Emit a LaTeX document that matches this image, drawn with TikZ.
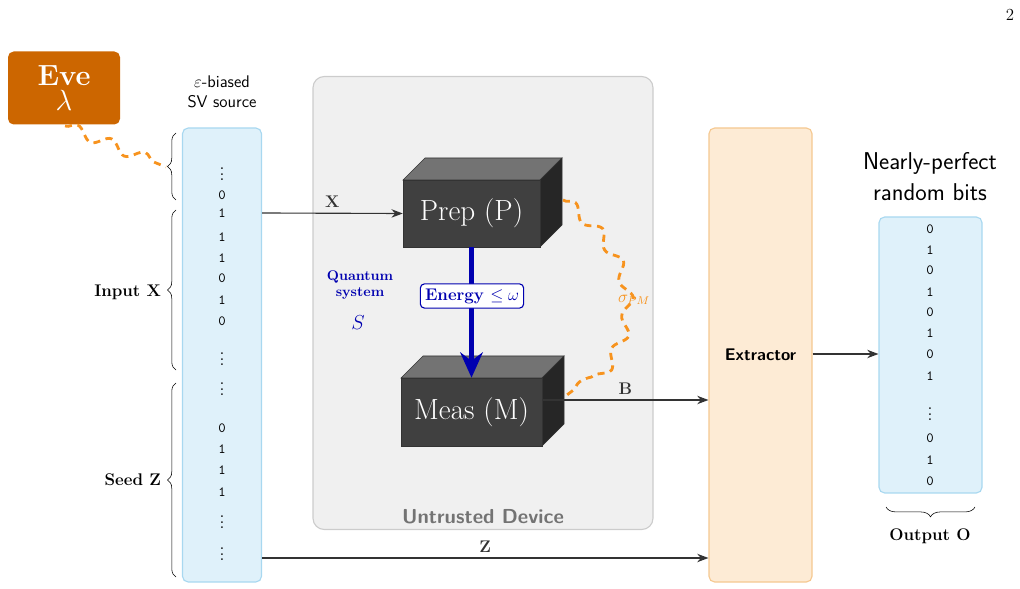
\documentclass[tikz,border=0pt]{standalone}
\usepackage{amsmath,amssymb}
\usetikzlibrary{arrows.meta, decorations.pathmorphing, decorations.pathreplacing, positioning, calc}

\definecolor{evecol}{HTML}{CC6600}
\definecolor{srcfill}{HTML}{DFF1FA}
\definecolor{srcline}{HTML}{A8D8F0}
\definecolor{extfill}{HTML}{FDEBD5}
\definecolor{extline}{HTML}{F5C890}
\definecolor{snakecol}{HTML}{F7931E}
\definecolor{qblue}{HTML}{0000B0}

\tikzset{
  column/.style={draw=srcline, fill=srcfill, rounded corners=4pt, thick},
  bit/.style={font=\ttfamily, inner sep=0pt},
  flow/.style={-{Stealth[length=8pt]}, thick, black!80},
  quantum/.style={draw=snakecol, line width=2pt, dash pattern=on 5pt off 4pt,
    decorate, decoration={snake, amplitude=4pt, segment length=26pt}},
  brlabel/.style={font=\bfseries\large}
}

\newcommand{\boxthree}[4]{% x1,y1,x2,y2 (front face)
  \fill[black!55, draw=black!80] (#1,#2) -- ++(22,-22) -- ($(#3,#2)+(22,-22)$) -- (#3,#2) -- cycle;
  \fill[black!85, draw=black!80] (#3,#2) -- ++(22,-22) -- ($(#3,#4)+(22,-22)$) -- (#3,#4) -- cycle;
  \fill[black!75, draw=black!80] (#1,#2) rectangle (#3,#4);
}

\begin{document}
\begin{tikzpicture}[x=0.025cm, y=-0.025cm]
  \useasboundingbox (0,0) rectangle (1020,589);
  \node at (1010,15) {\large 2};

  % Eve
  \node[fill=evecol, rounded corners=4pt, minimum width=112*0.025cm, minimum height=73*0.025cm,
        text=white, align=center, inner sep=0pt] (eve) at (64,88)
        {\huge\bfseries Eve\\[2pt]\huge$\lambda$};

  % source column
  \node[column, minimum width=79*0.025cm, minimum height=454*0.025cm, inner sep=0pt] (src) at (222,355) {};
  \node[align=center, font=\sffamily\large] (srctitle) at (222,92) {$\varepsilon$-biased\\SV source};
  \foreach \y/\b in {195/0,213/1,237/1,258/1,278/0,300/1,321/0,428/0,449/1,470/1,492/1}
    \node[bit] at (222,\y) {\b};
  \foreach \y in {170,355,385,518,550}
    \node[bit] at (222,\y) {$\vdots$};

  % braces
  \draw[decorate, decoration={brace, amplitude=6pt}] (176,200) -- (176,133);
  \coordinate (topbrtip) at (166,167);
  \draw[decorate, decoration={brace, amplitude=6pt}] (176,370) -- (176,210);
  \node[brlabel, anchor=east] (inx) at (166,292) {Input $\mathbf{X}$};
  \draw[decorate, decoration={brace, amplitude=6pt}] (176,577) -- (176,383);
  \node[brlabel, anchor=east] (seedz) at (166,480) {Seed $\mathbf{Z}$};

  % untrusted device
  \node[draw=black!20, fill=black!6, rounded corners=8pt, thick, minimum width=340*0.025cm,
        minimum height=453*0.025cm, inner sep=0pt] (dev) at (483,303) {};
  \node[font=\sffamily\bfseries\Large, text=black!55] (devlabel) at (483,517) {Untrusted Device};

  % Prep and Meas
  \boxthree{403}{180}{540}{247}
  \node[text=white, font=\huge, minimum width=137*0.025cm, minimum height=67*0.025cm] (prep) at (471.5,213.5) {Prep (P)};
  \boxthree{401}{378}{542}{446}
  \node[text=white, font=\huge, minimum width=141*0.025cm, minimum height=68*0.025cm] (meas) at (471.5,412) {Meas (M)};

  \draw[qblue, line width=3pt, -{Stealth[length=18pt, width=16pt, inset=6pt]}] (prep.south) -- (meas.north);
  \node[draw=qblue, fill=white, rounded corners=3pt, thick, text=qblue, font=\bfseries\large] (energy)
        at (472,296) {Energy $\leq\omega$};
  \node[text=qblue, align=center, font=\bfseries, inner sep=0pt] (qsys) at (360,285) {Quantum\\system};
  \node[text=qblue, font=\Large] (qs) at (358,323) {$S$};

  % extractor and output
  \node[draw=extline, fill=extfill, rounded corners=4pt, thick, minimum width=103*0.025cm,
        minimum height=454*0.025cm, inner sep=0pt, font=\sffamily\bfseries\large] (ext) at (760.5,355) {Extractor};
  \node[column, minimum width=103*0.025cm, minimum height=276*0.025cm, inner sep=0pt] (out) at (930.5,355) {};
  \node[align=center, font=\sffamily\LARGE] (outtitle) at (930,177) {Nearly-perfect\\random bits};
  \foreach \y/\b in {229/0,250/1,270/0,292/1,312/0,333/1,354/0,376/1,438/0,460/1,481/0}
    \node[bit] at (930,\y) {\b};
  \node[bit] at (930,410) {$\vdots$};
  \draw[decorate, decoration={brace, amplitude=7pt}] (975,507) -- (886,507);
  \node[brlabel] (outo) at (930,536) {Output $\mathbf{O}$};

  % connectors
  \coordinate (xstart) at (262,213);
  \draw[flow] (xstart) -- (prep.west) node[pos=0.5, above, font=\bfseries\large] {X};
  \draw[flow] (meas.east |- 0,400) -- (ext.west |- 0,400) node[pos=0.5, above, font=\bfseries\large] {B};
  \coordinate (zstart) at (262,558);
  \draw[flow] (zstart) -- (ext.west |- zstart) node[pos=0.5, above, font=\bfseries\large] {Z};
  \draw[flow] (ext.east |- 0,354) -- (out.west |- 0,354);

  % quantum correlations
  \draw[quantum] (65,126) -- (topbrtip);
  \draw[quantum] (563,200) .. controls (640,260) and (640,340) .. (563,398);
  \node[text=snakecol, font=\large] (sigma) at (634,300) {$\sigma_{PM}$};
\end{tikzpicture}
\end{document}
